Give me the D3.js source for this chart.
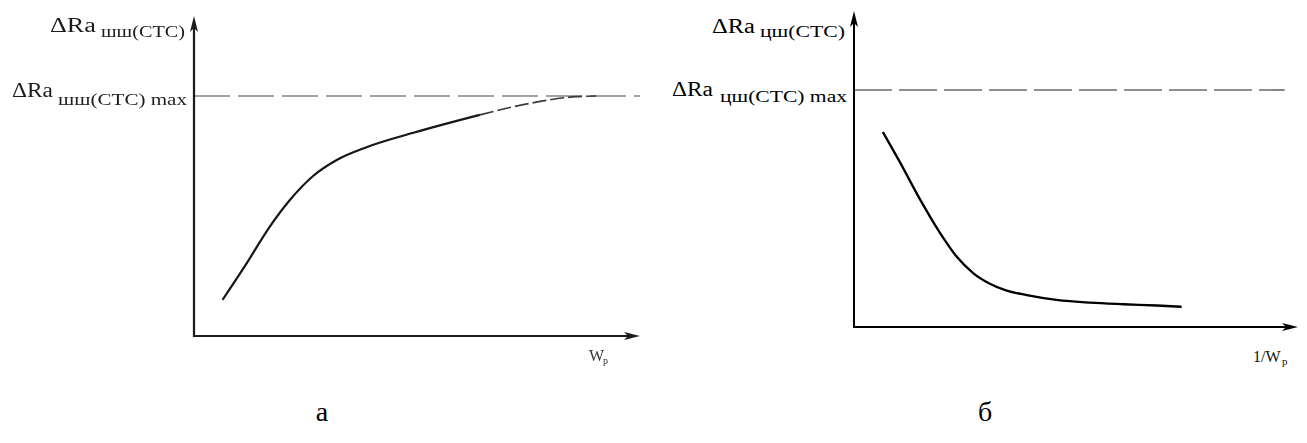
<!DOCTYPE html>
<html>
<head>
<meta charset="utf-8">
<script src="https://cdn.jsdelivr.net/npm/d3@7"></script>
<style>
  html, body { margin: 0; padding: 0; background: #fff; }
  svg { display: block; }
  text { font-family: "Liberation Serif", "Times New Roman", serif; }
</style>
</head>
<body>
<svg id="chart" width="1307" height="443"></svg>
<script>
// Panel а: roughness change vs. W_p (saturating growth)
const growthX = [6.4, 11.8, 17.0, 21.5, 26.7, 32.0, 38.7, 49.2, 64.1];
const growthY = [11.3, 22.7, 34.2, 42.5, 50.0, 55.0, 59.0, 63.5, 69.1];
// extrapolated tail of panel а (drawn dashed)
const tailX = [64.1, 75.3, 85.8, 90.2];
const tailY = [69.1, 72.7, 74.8, 75.0];
const maxLeft = 75;

// Panel б: roughness change vs. 1/W_p (decay)
const decayX = [6.5, 10.4, 14.9, 19.4, 23.1, 26.9, 30.6, 34.4, 38.9, 45.6, 53.2, 60.7, 68.2, 73.8];
const decayY = [61.7, 52.0, 40.3, 29.7, 22.3, 17.0, 13.7, 11.5, 10.1, 8.6, 7.7, 7.2, 6.8, 6.4];
const maxRight = 75;

const panelLabels = ["а", "б"];

const svg = d3.select("#chart");
const defs = svg.append("defs");
defs.append("filter").attr("id", "soft")
  .append("feGaussianBlur").attr("stdDeviation", 0.55);

function arrowHead(g, tip, dir, color) {
  // narrow filled arrowhead; dir: "up" or "right"
  const L = 16, W = 4;
  let pts;
  if (dir === "up") pts = [[tip[0], tip[1]], [tip[0] - W, tip[1] + L], [tip[0], tip[1] + L - 4], [tip[0] + W, tip[1] + L]];
  else pts = [[tip[0], tip[1]], [tip[0] - L, tip[1] - W], [tip[0] - L + 4, tip[1]], [tip[0] - L, tip[1] + W]];
  g.append("path").attr("d", "M" + pts.map(p => p.join(",")).join("L") + "Z").attr("fill", color);
}

function subLabel(g, x, y, main, sub, opts) {
  g.append("text").attr("x", x).attr("y", y)
    .attr("font-size", opts.mainSize).attr("fill", opts.color)
    .attr("textLength", opts.mainLen).attr("lengthAdjust", "spacingAndGlyphs")
    .text(main);
  g.append("text").attr("x", x + opts.subDx).attr("y", y + opts.subDy)
    .attr("font-size", opts.subSize).attr("fill", opts.color)
    .attr("textLength", opts.subLen).attr("lengthAdjust", "spacingAndGlyphs")
    .text(sub);
}

// ---------- panel а ----------
{
  const x = d3.scaleLinear().domain([0, 100]).range([194, 640]);
  const y = d3.scaleLinear().domain([0, 100]).range([336, 16]);
  const g = svg.append("g").attr("filter", "url(#soft)");
  const axisColor = "#1c1c1c";

  // max level
  g.append("line")
    .attr("x1", x(0)).attr("x2", x(100))
    .attr("y1", y(maxLeft)).attr("y2", y(maxLeft))
    .attr("stroke", "#a3a3a3").attr("stroke-width", 2)
    .attr("stroke-dasharray", "36,8");

  // axes
  g.append("line").attr("x1", x(0)).attr("x2", x(0)).attr("y1", y(0) + 1).attr("y2", y(100) + 10)
    .attr("stroke", axisColor).attr("stroke-width", 2.2);
  g.append("line").attr("x1", x(0) - 1).attr("x2", x(100) - 10).attr("y1", y(0)).attr("y2", y(0))
    .attr("stroke", axisColor).attr("stroke-width", 2.2);
  arrowHead(g, [x(0), y(100)], "up", axisColor);
  arrowHead(g, [x(100), y(0)], "right", axisColor);

  const line = d3.line().x(d => x(d[0])).y(d => y(d[1])).curve(d3.curveMonotoneX);
  g.append("path").datum(d3.zip(growthX, growthY)).attr("d", line)
    .attr("fill", "none").attr("stroke", "#151515").attr("stroke-width", 2.2);
  g.append("path").datum(d3.zip(tailX, tailY)).attr("d", line)
    .attr("fill", "none").attr("stroke", "#3a3a3a").attr("stroke-width", 1.6)
    .attr("stroke-dasharray", "14,4");

  const opts = { color: "#1e1e1e", mainSize: 20, subSize: 16, subDy: 5 };
  subLabel(g, 50, 32, "ΔRa", "шш(СТС)", Object.assign({}, opts, { mainLen: 46, subDx: 51, subLen: 84 }));
  subLabel(g, 12, 97, "ΔRa", "шш(СТС) max", Object.assign({}, opts, { mainLen: 41, subDx: 46, subLen: 129, subDy: 8 }));

  g.append("text").attr("x", 589).attr("y", 361).attr("font-size", 16).attr("fill", "#333").text("W");
  g.append("text").attr("x", 603).attr("y", 364).attr("font-size", 10).attr("fill", "#333").text("p");
}

// ---------- panel б ----------
{
  const x = d3.scaleLinear().domain([0, 100]).range([854, 1298]);
  const y = d3.scaleLinear().domain([0, 100]).range([327, 11]);
  const g = svg.append("g");
  const axisColor = "#000";

  g.append("line")
    .attr("x1", x(0)).attr("x2", x(97))
    .attr("y1", y(maxRight)).attr("y2", y(maxRight))
    .attr("stroke", "#222").attr("stroke-width", 1.1)
    .attr("stroke-dasharray", "38,7");

  g.append("line").attr("x1", x(0)).attr("x2", x(0)).attr("y1", y(0) + 1).attr("y2", y(100) + 10)
    .attr("stroke", axisColor).attr("stroke-width", 2);
  g.append("line").attr("x1", x(0) - 1).attr("x2", x(100) - 10).attr("y1", y(0)).attr("y2", y(0))
    .attr("stroke", axisColor).attr("stroke-width", 2);
  arrowHead(g, [x(0), y(100)], "up", axisColor);
  arrowHead(g, [x(100), y(0)], "right", axisColor);

  const line = d3.line().x(d => x(d[0])).y(d => y(d[1])).curve(d3.curveMonotoneX);
  g.append("path").datum(d3.zip(decayX, decayY)).attr("d", line)
    .attr("fill", "none").attr("stroke", "#000").attr("stroke-width", 2.3);

  const opts = { color: "#000", mainSize: 20, subSize: 16, subDy: 4 };
  subLabel(g, 712, 33, "ΔRa", "цш(СТС)", Object.assign({}, opts, { mainLen: 43, subDx: 48, subLen: 85 }));
  subLabel(g, 672, 96, "ΔRa", "цш(СТС) max", Object.assign({}, opts, { mainLen: 41, subDx: 48, subLen: 127, subDy: 6 }));

  g.append("text").attr("x", 1253).attr("y", 362).attr("font-size", 16).attr("fill", "#111").text("1/W");
  g.append("text").attr("x", 1282).attr("y", 365).attr("font-size", 11).attr("fill", "#111").text("p");
}

// panel captions
svg.append("text").attr("x", 322).attr("y", 421).attr("text-anchor", "middle")
  .attr("font-size", 28).attr("fill", "#000").text(panelLabels[0]);
svg.append("text").attr("x", 985).attr("y", 421).attr("text-anchor", "middle")
  .attr("font-size", 28).attr("fill", "#000").text(panelLabels[1]);
</script>
</body>
</html>
